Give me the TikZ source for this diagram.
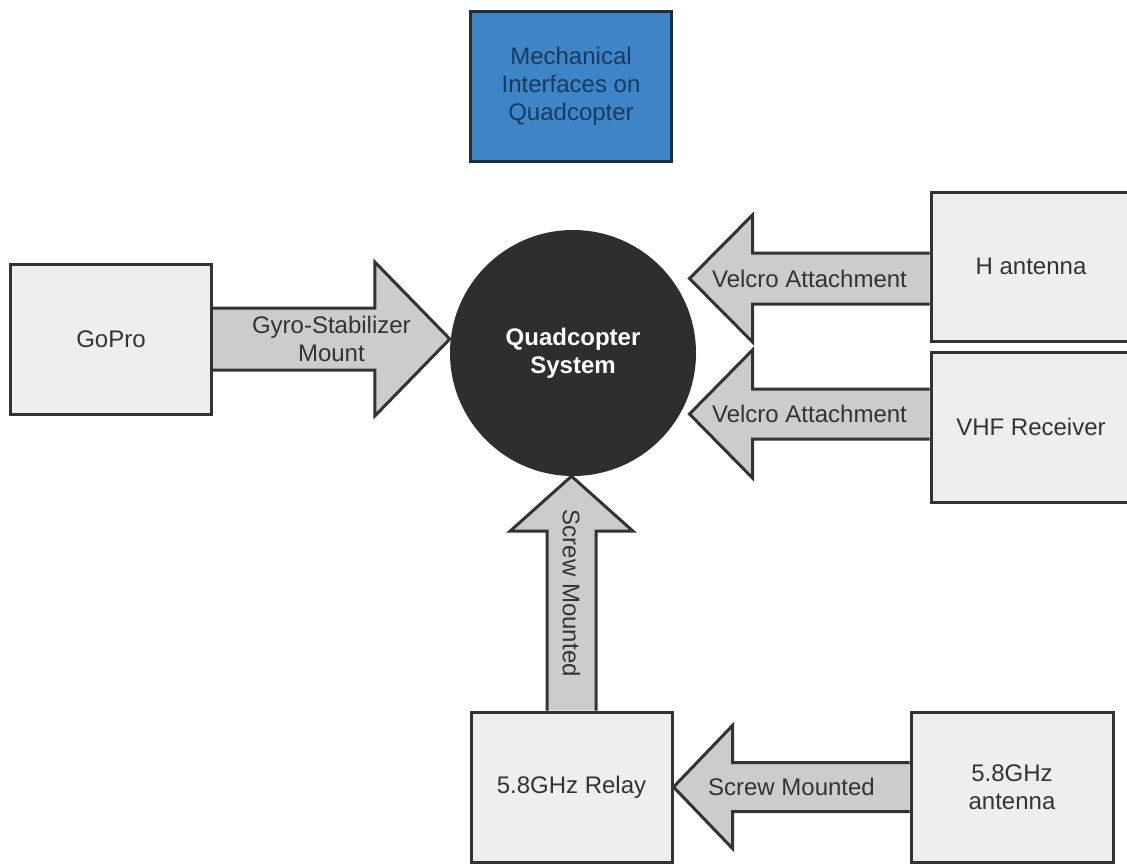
\documentclass[tikz,border=0pt]{standalone}
\usepackage{fontspec}
\setmainfont{Liberation Sans}
\usetikzlibrary{calc}
\definecolor{boxgray}{HTML}{EEEEEE}
\definecolor{edgegray}{HTML}{333333}
\definecolor{arrowgray}{HTML}{CCCCCC}
\definecolor{hubdark}{HTML}{2E2E2E}
\definecolor{titleblue}{HTML}{3D85C6}
\definecolor{titleedge}{HTML}{1F2D3D}
\definecolor{titletext}{HTML}{1A3A60}
\tikzset{
  part/.style={draw=edgegray, line width=3pt, fill=boxgray, minimum width=201pt,
    minimum height=150pt, align=center, text=edgegray, font=\fontsize{24}{28}\selectfont},
  fatflow/.style={draw=edgegray, line width=3pt, fill=arrowgray, line join=miter},
  flowlabel/.style={align=center, text=edgegray, inner sep=0pt, font=\fontsize{24}{28}\selectfont}
}
% #1 tail, #2 tip, #3 half body, #4 half head, #5 head length, #6 label options, #7 label
\newcommand{\fatarrow}[7]{%
  \path (#1) coordinate (tail) (#2) coordinate (tip) ($(tip)!#5!(tail)$) coordinate (base);
  \draw[fatflow] ($(tail)!#3!90:(tip)$) -- ($(base)!#3!90:(tip)$) -- ($(base)!#4!90:(tip)$)
    -- (tip) -- ($(base)!#4!-90:(tip)$) -- ($(base)!#3!-90:(tip)$) -- ($(tail)!#3!-90:(tip)$);
  \path (tail) -- (tip) node[flowlabel, midway, #6] {#7};
}
\begin{document}
\begin{tikzpicture}[x=1pt, y=-1pt]
  \useasboundingbox (0,0) rectangle (1127,863);
  \node[part, fill=titleblue, draw=titleedge, text=titletext] (title) at (571,86) {Mechanical\\Interfaces on\\Quadcopter};
  \node[circle, fill=hubdark, minimum size=246pt, inner sep=0pt, align=center, text=white,
    font=\fontsize{24}{28}\selectfont\bfseries] (quad) at (573,353) {Quadcopter\\System};
  \node[part] (gopro) at (111,339) {GoPro};
  \node[part, minimum width=200pt, minimum height=149pt] (hant) at (1031,266.5) {H antenna};
  \node[part, minimum width=200pt] (vhf) at (1031,427) {VHF Receiver};
  \node[part] (relay) at (571.5,787) {5.8GHz Relay};
  \node[part, minimum width=202pt] (ant58) at (1012,787) {5.8GHz\\antenna};
  % mounting arrows
  \fatarrow{gopro.east}{gopro.east -| quad.west}{31pt}{77pt}{75pt}{name=gyro}{Gyro-Stabilizer\\Mount}
  \fatarrow{$(hant.west)+(0,12)$}{$(hant.west)+(-240,12)$}{25.5pt}{63.5pt}{63pt}{name=velcroA}{Velcro Attachment}
  \fatarrow{$(vhf.west)+(0,-13)$}{$(vhf.west)+(-240,-13)$}{25pt}{64pt}{63pt}{name=velcroB}{Velcro Attachment}
  \fatarrow{relay.north}{relay.north |- quad.south}{24.5pt}{61.5pt}{55pt}{name=screwA, rotate=-90}{Screw Mounted}
  \fatarrow{ant58.west}{relay.east}{24.5pt}{61.5pt}{59pt}{name=screwB}{Screw Mounted}
\end{tikzpicture}
\end{document}
